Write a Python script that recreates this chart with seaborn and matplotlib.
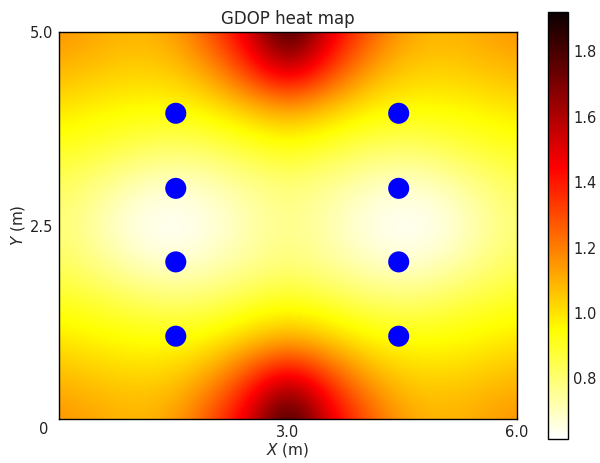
import numpy as np
import pandas as pd
import matplotlib
matplotlib.use("Agg")
import matplotlib.pyplot as plt
import seaborn as sns

# Anchor positions (m)
anchor_x = [1.53, 1.53, 1.53, 1.53, 4.45, 4.45, 4.45, 4.45]
anchor_y = [1.07, 2.03, 2.98, 3.95, 1.07, 2.03, 2.98, 3.95]

# GDOP grid (x = 0..6 step 0.5, y = 0..5 step 0.5)
grid_x = [0.0, 0.5, 1.0, 1.5, 2.0, 2.5, 3.0, 3.5, 4.0, 4.5, 5.0, 5.5, 6.0]
grid_y = [0.0, 0.5, 1.0, 1.5, 2.0, 2.5, 3.0, 3.5, 4.0, 4.5, 5.0]
gdop_y00 = [1.16, 1.12, 1.09, 1.13, 1.30, 1.52, 1.92, 1.52, 1.30, 1.13, 1.09, 1.12, 1.16]
gdop_y05 = [1.09, 1.06, 1.04, 1.05, 1.15, 1.36, 1.57, 1.36, 1.15, 1.05, 1.04, 1.06, 1.09]
gdop_y10 = [1.00, 0.97, 0.95, 0.95, 0.98, 1.06, 1.13, 1.06, 0.98, 0.95, 0.95, 0.97, 1.00]
gdop_y15 = [0.91, 0.88, 0.84, 0.81, 0.83, 0.88, 0.92, 0.88, 0.83, 0.81, 0.84, 0.88, 0.91]
gdop_y20 = [0.83, 0.77, 0.70, 0.67, 0.70, 0.75, 0.79, 0.75, 0.70, 0.67, 0.70, 0.77, 0.83]
gdop_y25 = [0.80, 0.72, 0.64, 0.615, 0.65, 0.72, 0.77, 0.72, 0.65, 0.615, 0.64, 0.72, 0.80]
gdop_y30 = [0.83, 0.77, 0.70, 0.67, 0.70, 0.75, 0.79, 0.75, 0.70, 0.67, 0.70, 0.77, 0.83]
gdop_y35 = [0.91, 0.88, 0.84, 0.81, 0.83, 0.88, 0.92, 0.88, 0.83, 0.81, 0.84, 0.88, 0.91]
gdop_y40 = [1.00, 0.97, 0.95, 0.95, 0.98, 1.06, 1.13, 1.06, 0.98, 0.95, 0.95, 0.97, 1.00]
gdop_y45 = [1.09, 1.06, 1.04, 1.05, 1.15, 1.36, 1.57, 1.36, 1.15, 1.05, 1.04, 1.06, 1.09]
gdop_y50 = [1.16, 1.12, 1.09, 1.13, 1.30, 1.52, 1.92, 1.52, 1.30, 1.13, 1.09, 1.12, 1.16]

x_ticks = [3.0, 6.0]
x_tick_labels = ["3.0", "6.0"]
y_ticks = [2.5, 5.0]
y_tick_labels = ["2.5", "5.0"]
cbar_ticks = [0.8, 1.0, 1.2, 1.4, 1.6, 1.8]

gdop = np.array([gdop_y00, gdop_y05, gdop_y10, gdop_y15, gdop_y20, gdop_y25,
                 gdop_y30, gdop_y35, gdop_y40, gdop_y45, gdop_y50])
anchors = pd.DataFrame({"x": anchor_x, "y": anchor_y})

sns.set_style("white", {"xtick.direction": "in", "ytick.direction": "in",
                        "axes.edgecolor": "black"})
plt.rcParams["font.family"] = ["DejaVu Sans"]

fig = plt.figure(figsize=(6.0, 4.63), dpi=100)
ax = fig.add_axes([0.0983, 0.095, 0.7634, 0.8359])
cax = fig.add_axes([0.913, 0.0518, 0.034, 0.9222])

dx = (grid_x[1] - grid_x[0]) / 2
dy = (grid_y[1] - grid_y[0]) / 2
im = ax.imshow(gdop, origin="lower", cmap="hot_r", interpolation="bicubic",
               extent=[grid_x[0] - dx, grid_x[-1] + dx, grid_y[0] - dy, grid_y[-1] + dy],
               aspect="auto", vmin=gdop.min(), vmax=gdop.max())
sns.scatterplot(data=anchors, x="x", y="y", ax=ax, color="#0000ff", s=230,
                edgecolor="none", legend=False, zorder=3)
ax.set_xlim(grid_x[0], grid_x[-1])
ax.set_ylim(grid_y[0], grid_y[-1])
ax.set_xticks(x_ticks)
ax.set_xticklabels(x_tick_labels, fontsize=10.5)
ax.set_yticks(y_ticks)
ax.set_yticklabels(y_tick_labels, fontsize=10.5)
ax.tick_params(direction="in", length=4, width=0.8, colors="#222222", pad=4)
ax.text(-0.034, -0.028, "0", transform=ax.transAxes, ha="center", va="center",
        fontsize=10.5, color="#222222")
ax.set_xlabel("$X$ (m)", fontsize=11, labelpad=1)
ax.set_ylabel("$Y$ (m)", fontsize=11, labelpad=2)
ax.set_title("GDOP heat map", fontsize=12, pad=6)
for sp in ax.spines.values():
    sp.set_visible(True)
    sp.set_color("black")
    sp.set_linewidth(1.0)

cb = fig.colorbar(im, cax=cax, ticks=cbar_ticks)
cb.ax.tick_params(direction="in", length=4, width=0.8, labelsize=10.5, colors="#222222")
cb.ax.set_yticklabels([f"{t:.1f}" for t in cbar_ticks])
cb.outline.set_edgecolor("black")
cb.outline.set_linewidth(1.0)

fig.savefig("out.png", dpi=100)
